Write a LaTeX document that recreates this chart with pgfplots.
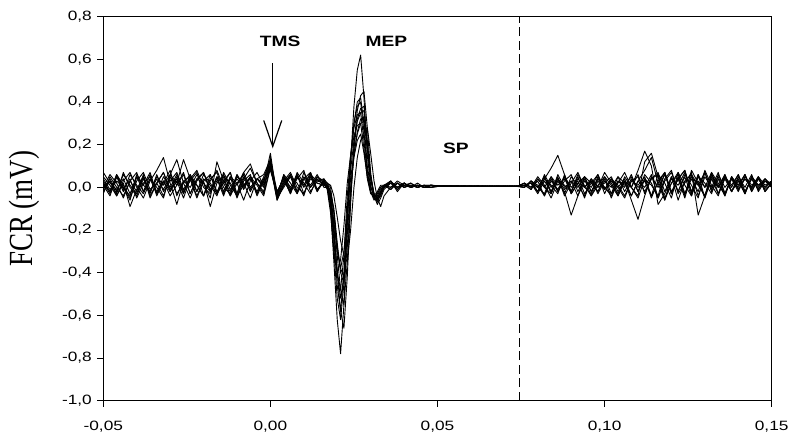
\documentclass[border=0pt]{standalone}
\usepackage{pgfplots}
\pgfplotsset{compat=1.18}
\usepackage{pgfplotstable}
\usepackage{fontspec}
\usetikzlibrary{arrows.meta}
\setmainfont{Liberation Sans}[FakeStretch=1.28]
\newfontfamily\seriffont{Liberation Serif}

\pgfplotstableread{
x a b c d e f g h i j k l
-0.050 0.02 -0.01 0.05 0.00 0.03 -0.02 0.07 0.01 -0.03 0.04 0.00 0.02
-0.048 -0.03 0.04 0.01 0.06 -0.02 0.03 0.02 -0.04 0.05 -0.01 0.03 -0.02
-0.046 0.05 -0.02 -0.04 0.02 0.06 -0.03 -0.01 0.05 0.00 0.03 -0.04 0.06
-0.044 0.00 0.06 0.03 -0.05 0.01 0.07 0.04 -0.02 -0.04 0.00 0.02 -0.01
-0.042 -0.04 0.01 0.07 0.03 -0.05 0.00 -0.03 0.06 0.03 -0.06 -0.09 0.04
-0.040 0.06 -0.03 0.00 0.07 0.03 -0.04 0.05 0.01 -0.02 0.05 -0.01 -0.05
-0.038 0.01 0.05 -0.05 -0.02 0.07 0.04 -0.02 -0.03 0.06 0.01 0.05 0.02
-0.036 -0.02 -0.04 0.03 0.04 -0.01 -0.02 0.06 0.04 -0.05 0.07 -0.03 0.05
-0.034 0.04 0.02 0.08 -0.03 0.02 0.05 -0.04 0.00 0.02 -0.03 0.06 -0.02
-0.032 -0.01 0.07 0.14 0.05 -0.04 0.01 0.03 -0.05 0.07 0.02 -0.02 0.03
-0.030 0.05 -0.02 0.02 0.00 0.05 0.06 -0.02 0.06 -0.01 0.08 0.03 -0.04
-0.028 -0.03 0.03 -0.08 0.06 0.01 0.13 0.05 0.02 0.04 -0.04 0.07 0.01
-0.026 0.02 -0.05 0.03 -0.02 0.07 0.02 -0.03 0.13 -0.03 0.03 -0.01 0.06
-0.024 0.06 0.04 0.05 0.03 -0.03 -0.05 0.06 0.04 0.05 0.00 0.04 -0.03
-0.022 -0.02 0.08 -0.02 0.07 0.04 0.03 0.01 -0.04 0.01 0.06 -0.05 0.04
-0.020 0.04 0.00 0.06 -0.04 0.02 0.07 -0.04 0.03 -0.04 0.02 0.03 0.07
-0.018 0.01 -0.03 0.02 0.03 -0.05 -0.01 0.04 -0.09 0.06 -0.02 0.06 -0.02
-0.016 -0.04 0.05 -0.03 0.08 0.12 0.04 0.07 0.02 -0.02 0.05 -0.03 0.03
-0.014 0.05 0.02 0.07 0.00 0.03 -0.04 -0.02 0.06 0.03 -0.03 0.02 0.05
-0.012 0.02 -0.04 0.01 -0.03 -0.02 0.05 0.05 -0.01 0.07 0.04 0.07 -0.04
-0.010 -0.03 0.06 -0.04 0.05 0.06 0.02 -0.05 0.04 -0.03 0.01 -0.04 0.02
-0.008 0.07 0.01 0.04 0.02 -0.01 -0.06 0.03 0.00 0.05 0.07 0.01 0.06
-0.006 0.00 0.04 0.09 -0.05 0.05 0.03 0.06 0.05 -0.02 0.11 0.05 -0.01
-0.004 0.04 -0.02 0.02 0.04 0.01 0.07 -0.03 -0.04 0.04 0.02 -0.03 0.04
-0.002 0.02 0.05 -0.03 0.06 -0.04 0.01 0.04 0.03 0.01 -0.02 0.04 0.00
0.000 0.16 0.12 0.10 0.13 0.09 0.11 0.08 0.12 0.10 0.14 0.09 0.11
0.002 -0.05 -0.03 -0.06 -0.02 -0.04 -0.05 -0.03 -0.06 -0.04 -0.05 -0.02 -0.04
0.004 0.03 0.05 0.01 0.04 0.06 0.00 0.05 0.02 0.06 0.01 0.04 0.03
0.006 -0.02 0.00 0.06 -0.03 0.02 0.05 -0.02 0.06 -0.01 0.05 -0.03 0.07
0.008 0.05 0.06 -0.02 0.05 -0.03 0.02 0.07 -0.02 0.04 -0.03 0.06 0.00
0.010 0.01 -0.03 0.04 0.01 0.07 -0.04 0.02 0.05 0.08 0.04 0.00 -0.03
0.012 0.06 0.04 0.00 0.07 0.00 0.06 -0.03 0.01 -0.02 0.07 0.05 0.05
0.014 -0.01 0.02 0.05 -0.02 0.04 0.03 0.05 0.06 0.03 -0.01 -0.02 0.02
0.016 0.03 0.01 0.02 0.04 0.01 0.02 0.03 0.00 0.04 0.02 0.03 0.01
0.017 0.00 0.01 0.02 0.00 0.01 -0.01 0.02 0.00 0.02 0.01 0.01 0.00
0.018 -0.10 -0.08 0.00 -0.06 -0.03 -0.12 -0.02 -0.07 0.01 -0.05 -0.02 -0.04
0.019 -0.35 -0.30 -0.12 -0.22 -0.18 -0.30 -0.10 -0.25 -0.04 -0.20 -0.12 -0.16
0.020 -0.62 -0.52 -0.32 -0.40 -0.40 -0.40 -0.26 -0.46 -0.14 -0.40 -0.28 -0.30
0.021 -0.78 -0.62 -0.48 -0.48 -0.58 -0.34 -0.40 -0.58 -0.25 -0.52 -0.38 -0.38
0.022 -0.55 -0.45 -0.55 -0.32 -0.66 -0.18 -0.45 -0.40 -0.32 -0.42 -0.42 -0.30
0.023 -0.18 -0.12 -0.35 -0.04 -0.42 0.02 -0.28 -0.10 -0.35 -0.15 -0.22 -0.12
0.024 0.12 0.12 -0.05 0.15 -0.08 0.15 -0.02 0.14 -0.20 0.08 0.00 0.04
0.025 0.38 0.30 0.18 0.28 0.20 0.24 0.15 0.30 0.00 0.22 0.14 0.16
0.026 0.55 0.40 0.32 0.34 0.36 0.29 0.26 0.38 0.14 0.31 0.22 0.25
0.027 0.62 0.42 0.37 0.35 0.43 0.30 0.32 0.40 0.22 0.35 0.25 0.30
0.028 0.42 0.30 0.38 0.22 0.45 0.18 0.33 0.26 0.26 0.36 0.16 0.31
0.029 0.15 0.10 0.22 0.06 0.28 0.04 0.20 0.08 0.28 0.20 0.05 0.18
0.030 0.01 0.00 0.05 -0.02 0.07 -0.03 0.04 -0.02 0.16 0.05 -0.02 0.04
0.031 -0.05 -0.04 -0.03 -0.05 -0.04 -0.04 -0.04 -0.06 0.03 -0.03 -0.05 -0.03
0.032 -0.06 -0.05 -0.06 -0.03 -0.08 -0.02 -0.07 -0.04 -0.05 -0.05 -0.03 -0.05
0.033 -0.03 -0.02 -0.04 0.00 -0.05 0.01 -0.03 -0.01 -0.09 -0.02 0.00 -0.02
0.034 0.00 0.01 0.00 0.01 -0.01 0.01 0.00 0.01 -0.04 0.00 0.01 0.01
0.036 0.02 0.00 0.03 -0.01 0.02 0.00 0.03 0.02 0.00 0.02 -0.01 0.03
0.038 0.00 0.02 -0.01 0.02 0.00 0.02 -0.02 0.00 0.03 -0.01 0.02 0.00
0.040 0.02 0.00 0.02 0.00 0.02 0.00 0.02 0.01 0.01 0.02 0.00 0.02
0.042 0.00 0.01 0.00 0.02 0.00 0.01 0.00 0.02 0.00 0.00 0.01 0.00
0.044 0.01 0.00 0.01 0.00 0.01 0.00 0.01 0.00 0.02 0.01 0.00 0.01
0.046 0.00 0.01 0.00 0.01 0.00 0.01 0.00 0.01 0.00 0.00 0.01 0.00
0.048 0.01 0.00 0.01 0.01 0.00 0.01 0.01 0.00 0.01 0.01 0.00 0.01
0.050 0.006 0.004 0.008 0.005 0.007 0.004 0.006 0.008 0.005 0.006 0.004 0.007
0.052 0.004 0.007 0.005 0.008 0.004 0.006 0.007 0.005 0.008 0.004 0.006 0.005
0.054 0.007 0.005 0.006 0.004 0.008 0.005 0.004 0.007 0.005 0.007 0.005 0.006
0.056 0.005 0.006 0.004 0.007 0.005 0.007 0.006 0.004 0.006 0.005 0.007 0.004
0.058 0.006 0.004 0.007 0.005 0.006 0.004 0.005 0.007 0.004 0.006 0.005 0.007
0.060 0.004 0.006 0.005 0.006 0.004 0.006 0.007 0.005 0.006 0.004 0.006 0.005
0.062 0.006 0.005 0.006 0.004 0.007 0.005 0.004 0.006 0.005 0.007 0.004 0.006
0.064 0.005 0.006 0.004 0.006 0.005 0.006 0.006 0.004 0.006 0.005 0.006 0.004
0.066 0.006 0.004 0.006 0.005 0.006 0.004 0.005 0.006 0.004 0.006 0.005 0.006
0.068 0.004 0.006 0.005 0.006 0.004 0.006 0.006 0.005 0.006 0.004 0.006 0.005
0.070 0.006 0.005 0.006 0.004 0.006 0.005 0.004 0.006 0.005 0.006 0.004 0.006
0.072 0.005 0.006 0.004 0.006 0.005 0.006 0.006 0.004 0.006 0.005 0.006 0.004
0.074 0.006 0.004 0.006 0.005 0.006 0.004 0.005 0.006 0.004 0.006 0.005 0.006
0.076 0.01 0.00 0.02 0.01 0.00 0.02 0.01 0.00 0.01 0.02 0.00 0.01
0.078 0.02 0.03 -0.01 0.02 0.03 0.00 0.02 0.03 -0.01 0.00 0.03 0.02
0.080 -0.02 0.00 0.04 -0.03 0.01 0.05 -0.02 0.00 0.04 0.03 -0.02 0.00
0.082 0.04 0.05 0.00 0.03 -0.04 0.01 0.06 -0.03 0.00 -0.04 0.04 0.05
0.084 0.09 -0.03 0.05 -0.02 0.03 -0.05 0.00 0.05 -0.03 0.04 0.01 -0.02
0.086 0.15 0.04 -0.02 0.05 -0.01 0.03 0.04 0.01 0.06 -0.02 -0.03 0.04
0.088 0.06 0.01 0.03 -0.04 0.05 -0.02 -0.03 0.04 0.00 0.05 0.06 -0.01
0.090 -0.03 -0.02 0.06 0.02 -0.03 -0.13 0.05 -0.02 0.03 0.00 -0.02 0.03
0.092 0.02 0.05 -0.02 0.07 0.02 -0.04 0.01 0.06 -0.04 0.03 0.04 0.00
0.094 0.00 -0.03 0.04 0.00 0.05 0.03 -0.04 0.00 0.05 -0.05 0.01 0.05
0.096 0.04 0.02 -0.04 0.03 -0.02 0.00 0.04 -0.03 0.02 0.04 -0.04 -0.02
0.098 -0.03 0.06 0.01 -0.02 0.04 0.06 0.00 0.05 -0.02 0.00 0.03 0.04
0.100 0.03 -0.01 0.05 0.05 0.00 -0.03 0.07 -0.01 0.04 0.02 -0.01 0.00
0.102 0.00 0.04 -0.03 0.01 -0.04 0.04 0.02 0.03 -0.05 0.05 0.04 -0.03
0.104 0.05 -0.04 0.02 -0.04 0.03 0.01 -0.03 0.00 0.03 -0.02 0.00 0.05
0.106 -0.02 0.03 0.07 0.03 0.01 -0.04 0.05 0.04 0.00 0.03 -0.05 0.02
0.108 0.04 0.00 0.00 -0.06 0.05 0.03 0.00 -0.04 0.06 0.00 0.03 -0.04
0.110 0.00 0.08 -0.04 -0.15 -0.02 0.05 -0.05 0.03 -0.02 0.06 0.01 0.03
0.112 0.03 0.17 0.12 -0.04 0.06 -0.02 0.04 0.08 0.04 -0.03 0.05 0.00
0.114 -0.04 0.10 0.16 0.05 0.02 0.04 0.01 0.14 -0.05 0.04 -0.04 0.06
0.116 0.06 -0.08 0.05 0.00 -0.05 0.06 -0.04 0.02 0.03 0.07 0.02 -0.05
0.118 0.02 -0.03 -0.06 0.06 0.04 -0.05 0.07 -0.06 0.07 -0.02 0.07 0.03
0.120 -0.05 0.04 0.02 -0.03 0.08 0.02 -0.02 0.05 -0.03 0.05 -0.03 0.07
0.122 0.07 0.01 0.06 0.04 -0.03 0.07 0.04 -0.02 0.05 -0.06 0.04 -0.02
0.124 0.01 0.07 -0.03 0.08 0.02 -0.03 0.08 0.06 -0.04 0.03 -0.05 0.05
0.126 -0.04 -0.02 0.05 -0.02 0.07 0.04 -0.03 0.01 0.08 0.06 0.06 -0.04
0.128 0.05 0.06 0.01 0.03 -0.13 -0.02 0.05 -0.05 0.02 -0.04 0.01 0.06
0.130 0.02 -0.05 0.07 -0.05 -0.04 0.08 0.00 0.07 -0.04 0.05 -0.04 0.00
0.132 -0.03 0.04 -0.02 0.06 0.05 0.01 0.07 -0.01 0.06 0.00 0.07 0.04
0.134 0.06 0.00 0.04 0.01 0.00 -0.04 -0.03 0.05 0.00 0.07 0.02 -0.03
0.136 0.00 0.06 -0.04 -0.03 0.06 0.05 0.04 -0.03 0.05 -0.03 -0.04 0.05
0.138 0.04 -0.02 0.05 0.05 -0.02 0.00 -0.02 0.04 -0.02 0.04 0.05 0.01
0.140 -0.02 0.03 0.01 -0.01 0.04 0.06 0.05 0.00 0.04 0.01 -0.01 0.06
0.142 0.05 -0.03 0.06 0.04 -0.03 -0.02 0.00 0.06 -0.03 0.06 0.04 -0.02
0.144 0.01 0.05 -0.02 0.00 0.05 0.04 0.06 -0.02 0.05 -0.01 0.00 0.04
0.146 0.04 0.00 0.04 0.05 0.01 -0.01 -0.02 0.04 0.01 0.05 0.05 -0.01
0.148 -0.01 0.04 0.00 -0.02 0.04 0.04 0.03 0.00 0.03 -0.02 0.01 0.03
0.150 0.02 0.01 0.03 0.02 0.00 0.01 0.02 0.03 0.01 0.02 0.03 0.00
}\emg

\begin{document}
\begin{tikzpicture}
\begin{axis}[
  at={(103.3bp,33.3bp)}, anchor=south west,
  scale only axis, width=668.4bp, height=384bp,
  xmin=-0.05, xmax=0.15, ymin=-1, ymax=0.8,
  xtick={-0.05,0,0.05,0.1,0.15},
  ytick={-1,-0.8,-0.6,-0.4,-0.2,0,0.2,0.4,0.6,0.8},
  tick pos=left, tick align=outside,
  major tick length=6bp,
  axis line style={line width=1bp},
  every tick/.style={black, line width=1bp},
  /pgf/number format/assume math mode=true,
  /pgf/number format/.cd, fixed, fixed zerofill, use comma,
  /pgfplots/.cd,
  xticklabel style={/pgf/number format/precision=2, font=\fontsize{13.5bp}{16bp}\selectfont, yshift=-11bp},
  yticklabel style={/pgf/number format/precision=1, font=\fontsize{13.5bp}{16bp}\selectfont, xshift=-2bp},
  ylabel={\scalebox{1}[1.25]{\seriffont\fontsize{27bp}{30bp}\selectfont FCR (mV)}},
  ylabel style={at={(axis description cs:0,0.5)}, anchor=center, yshift=79bp},
  clip=true,
]
\pgfplotsinvokeforeach{a,b,c,d,e,f,g,h,i,j,k,l}{
  \addplot[black, line width=0.9bp, line join=round] table[x=x, y=#1] {\emg};
}
\addplot[black, line width=0.9bp, dash pattern=on 9bp off 4.5bp] coordinates {(0.0744,-1) (0.0744,0.8)};
\node[font=\bfseries\fontsize{15bp}{18bp}\selectfont] at (axis cs:0.0029,0.685) {TMS};
\node[font=\bfseries\fontsize{15bp}{18bp}\selectfont] at (axis cs:0.0347,0.685) {MEP};
\node[font=\bfseries\fontsize{15bp}{18bp}\selectfont] at (axis cs:0.0555,0.183) {SP};
\draw[line width=1.2bp, -{Straight Barb[length=26bp,width=18bp,line width=1.2bp]}] (axis cs:0.0007,0.582) -- (axis cs:0.0007,0.183);
\end{axis}
\pgfresetboundingbox
\path[use as bounding box] (0,0) rectangle (795bp,434bp);
\end{tikzpicture}
\end{document}
